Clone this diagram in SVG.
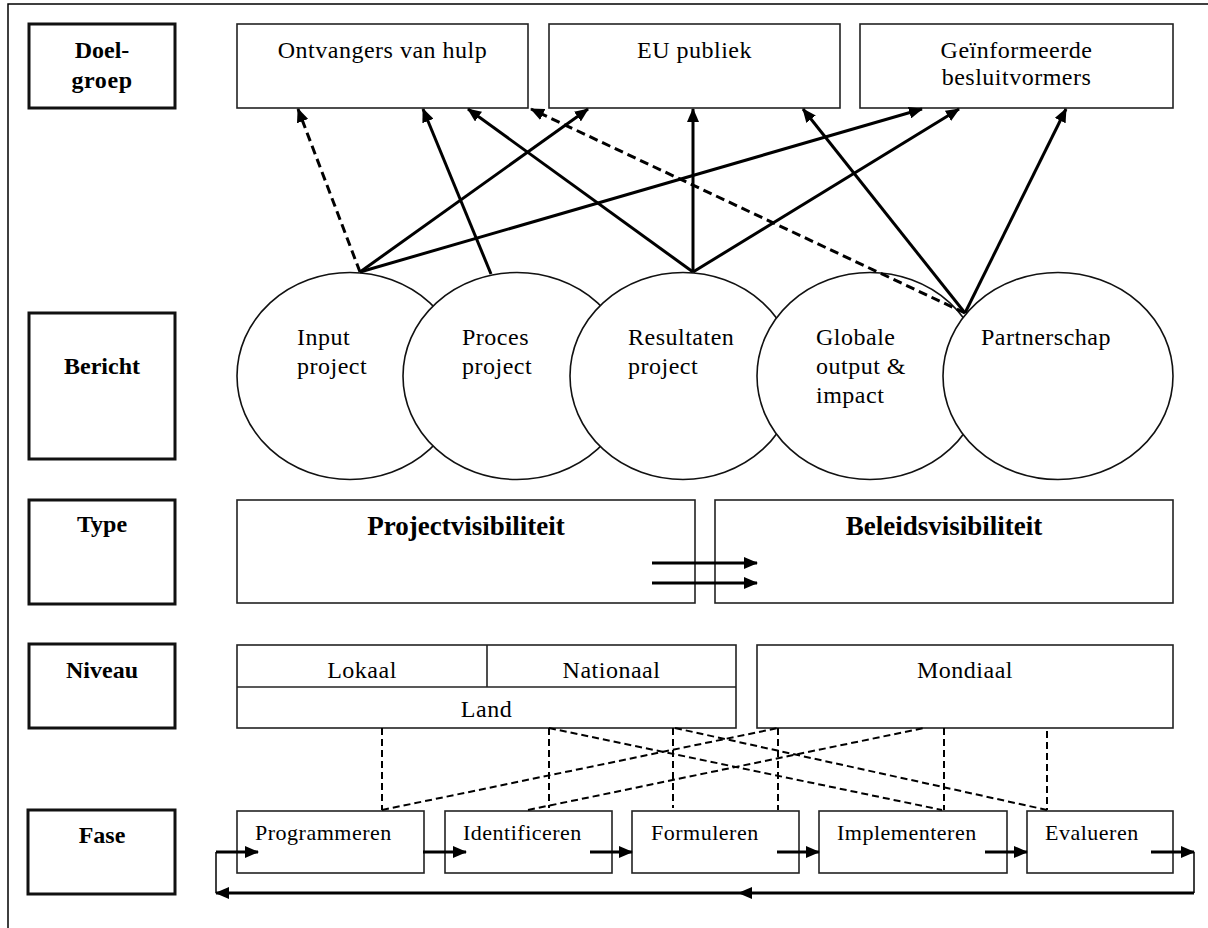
<svg xmlns="http://www.w3.org/2000/svg" width="1208" height="928" viewBox="0 0 1208 928">
<defs>
<style>
.t{font-family:"Liberation Serif","Times New Roman",serif;font-size:24px;letter-spacing:0.5px;fill:#000}
.c{text-anchor:middle}
.lb{font-family:"Liberation Serif","Times New Roman",serif;font-size:24px;font-weight:bold;text-anchor:middle;fill:#000}
.tb{font-family:"Liberation Serif","Times New Roman",serif;font-size:27px;font-weight:bold;text-anchor:middle;fill:#000}
.f{font-family:"Liberation Serif","Times New Roman",serif;font-size:22px;letter-spacing:0.5px;fill:#000}
.box{fill:#fff;stroke:#222;stroke-width:1.6}
.lab{fill:#fff;stroke:#111;stroke-width:3}
.circ{fill:#fff;stroke:#111;stroke-width:1.6}
.ar{fill:none;stroke:#000;stroke-width:3;marker-end:url(#ah)}
.dar{fill:none;stroke:#000;stroke-width:3;stroke-dasharray:9 5;marker-end:url(#ah)}
.dl{fill:none;stroke:#000;stroke-width:2;stroke-dasharray:7 4}
.thin{fill:none;stroke:#000;stroke-width:1.5}
</style>
<marker id="ah" viewBox="0 0 14 12" markerWidth="14" markerHeight="12" refX="13" refY="6" orient="auto" markerUnits="userSpaceOnUse">
<path d="M0,0 L14,6 L0,12 Z" fill="#000"/>
</marker>
</defs>
<rect width="1208" height="928" fill="#fff"/>
<g id="frame"><path d="M8,928 L8,4 L1208,4" class="thin" stroke="#333"/></g>

<g id="lab-doelgroep"><rect x="29" y="24" width="146" height="84" class="lab"/><text x="102" y="58" class="lb">Doel-</text><text x="102" y="88" class="lb" letter-spacing="0.6">groep</text></g>
<g id="lab-bericht"><rect x="29" y="313" width="146" height="146" class="lab"/><text x="102" y="374" class="lb">Bericht</text></g>
<g id="lab-type"><rect x="29" y="500" width="146" height="104" class="lab"/><text x="102" y="532" class="lb">Type</text></g>
<g id="lab-niveau"><rect x="29" y="644" width="146" height="84" class="lab"/><text x="102" y="678" class="lb">Niveau</text></g>
<g id="lab-fase"><rect x="28" y="810" width="147" height="84" class="lab"/><text x="102" y="843" class="lb">Fase</text></g>

<g id="ontvangers"><rect x="237" y="24" width="291" height="84" class="box"/><text x="382.5" y="58" class="t c">Ontvangers van hulp</text></g>
<g id="eu-publiek"><rect x="549" y="24" width="291" height="84" class="box"/><text x="694.5" y="58" class="t c">EU publiek</text></g>
<g id="geinformeerde"><rect x="860" y="24" width="313" height="84" class="box"/><text x="1016.5" y="58" class="t c">Geïnformeerde</text><text x="1016.5" y="85" class="t c">besluitvormers</text></g>

<g id="input"><ellipse cx="350" cy="376" rx="113" ry="103.5" class="circ"/><text x="297" y="345" class="t">Input</text><text x="297" y="374" class="t">project</text></g>
<g id="proces"><ellipse cx="517" cy="376" rx="114" ry="103.5" class="circ"/><text x="462" y="345" class="t">Proces</text><text x="462" y="374" class="t">project</text></g>
<g id="resultaten"><ellipse cx="683" cy="376" rx="113" ry="103.5" class="circ"/><text x="628" y="345" class="t">Resultaten</text><text x="628" y="374" class="t">project</text></g>
<g id="globale"><ellipse cx="870" cy="376" rx="113" ry="103.5" class="circ"/><text x="816" y="345" class="t">Globale</text><text x="816" y="374" class="t">output &amp;</text><text x="816" y="403" class="t">impact</text></g>
<g id="partnerschap"><ellipse cx="1058" cy="376" rx="115" ry="103.5" class="circ"/><text x="981" y="345" class="t">Partnerschap</text></g>

<g id="projectvisibiliteit"><rect x="237" y="500" width="458" height="103" class="box"/><text x="466" y="535" class="tb">Projectvisibiliteit</text></g>
<g id="beleidsvisibiliteit"><rect x="715" y="500" width="458" height="103" class="box"/><text x="944" y="535" class="tb">Beleidsvisibiliteit</text></g>

<g id="land"><rect x="237" y="645" width="499" height="83" class="box"/><line x1="237" y1="687" x2="736" y2="687" stroke="#222" stroke-width="1.6"/><line x1="487" y1="645" x2="487" y2="687" stroke="#222" stroke-width="1.6"/><text x="362" y="678" class="t c">Lokaal</text><text x="611.5" y="678" class="t c">Nationaal</text><text x="486.5" y="717" class="t c">Land</text></g>
<g id="mondiaal"><rect x="757" y="645" width="416" height="83" class="box"/><text x="965" y="678" class="t c">Mondiaal</text></g>

<g id="programmeren"><rect x="237" y="811" width="187" height="62" class="box"/><text x="255" y="840" class="f">Programmeren</text></g>
<g id="identificeren"><rect x="445" y="811" width="167" height="62" class="box"/><text x="463" y="840" class="f">Identificeren</text></g>
<g id="formuleren"><rect x="632" y="811" width="167" height="62" class="box"/><text x="651" y="840" class="f">Formuleren</text></g>
<g id="implementeren"><rect x="819" y="811" width="188" height="62" class="box"/><text x="837" y="840" class="f">Implementeren</text></g>
<g id="evalueren"><rect x="1027" y="811" width="146" height="62" class="box"/><text x="1045" y="840" class="f">Evalueren</text></g>

<g id="connectors">
<line x1="360" y1="272" x2="298" y2="109" class="dar"/>
<line x1="360" y1="272" x2="588" y2="109" class="ar"/>
<line x1="360" y1="272" x2="922" y2="109" class="ar"/>
<line x1="491" y1="274" x2="423" y2="109" class="ar"/>
<line x1="693" y1="272" x2="468" y2="109" class="ar"/>
<line x1="693" y1="272" x2="693" y2="109" class="ar"/>
<line x1="693" y1="272" x2="959" y2="109" class="ar"/>
<line x1="965" y1="313" x2="531" y2="109" class="dar"/>
<line x1="965" y1="313" x2="803" y2="109" class="ar"/>
<line x1="965" y1="313" x2="1066" y2="109" class="ar"/>

<line x1="652" y1="563" x2="757" y2="563" class="ar"/>
<line x1="652" y1="583" x2="757" y2="583" class="ar"/>

<line x1="382" y1="728" x2="382" y2="810" class="dl"/>
<line x1="549" y1="728" x2="549" y2="808" class="dl"/>
<line x1="673" y1="728" x2="673" y2="808" class="dl"/>
<line x1="778" y1="728" x2="778" y2="810" class="dl"/>
<line x1="944" y1="728" x2="944" y2="810" class="dl"/>
<line x1="1047" y1="731" x2="1047" y2="810" class="dl"/>
<line x1="382" y1="810" x2="778" y2="728" class="dl"/>
<line x1="528" y1="810" x2="924" y2="728" class="dl"/>
<line x1="549" y1="728" x2="942" y2="810" class="dl"/>
<line x1="675" y1="728" x2="1047" y2="810" class="dl"/>

<line x1="216" y1="852" x2="258" y2="852" class="ar"/>
<line x1="423" y1="852" x2="466" y2="852" class="ar"/>
<line x1="590" y1="852" x2="632" y2="852" class="ar"/>
<line x1="777" y1="852" x2="819" y2="852" class="ar"/>
<line x1="985" y1="852" x2="1027" y2="852" class="ar"/>
<line x1="1151" y1="852" x2="1194" y2="852" class="ar"/>
<line x1="216" y1="852" x2="216" y2="893" class="thin"/>
<line x1="1194" y1="852" x2="1194" y2="893" class="thin"/>
<line x1="1194" y1="893" x2="737" y2="893" stroke="#000" stroke-width="3"/>
<path d="M752,887 L738,893 L752,899 Z" fill="#000"/>
<line x1="737" y1="893" x2="216" y2="893" class="ar"/>
</g>
</svg>
